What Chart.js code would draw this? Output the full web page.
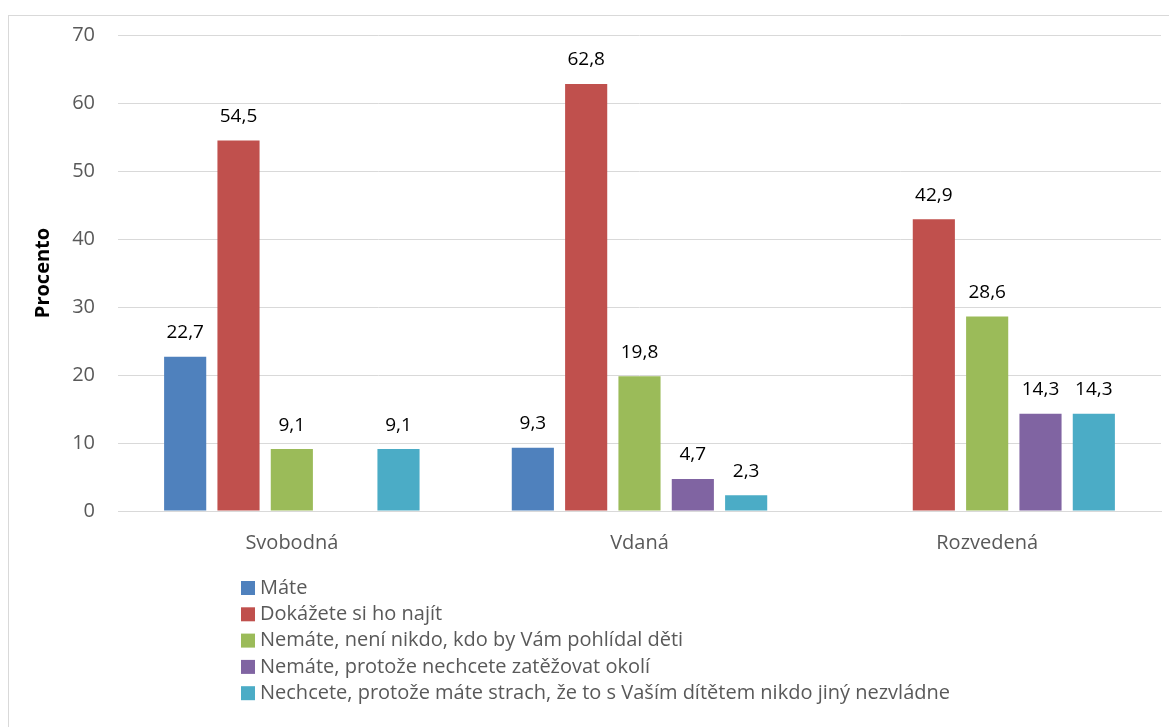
<!DOCTYPE html>
<html>
<head>
<meta charset="utf-8">
<script src="https://cdn.jsdelivr.net/npm/chart.js@4/dist/chart.umd.min.js"></script>
<style>
  body { margin: 0; background: #fff; }
  #frame { position: absolute; left: 8px; top: 15px; width: 1170px; height: 720px; border: 1px solid #d9d9d9; }
  #myChart { display: block; }
</style>
</head>
<body>
<div id="frame"><canvas id="myChart" width="1160" height="711"></canvas></div>
<script>
const categories = ["Svobodná", "Vdaná", "Rozvedená"];
const seriesNames = [
  "Máte",
  "Dokážete si ho najít",
  "Nemáte, není nikdo, kdo by Vám pohlídal děti",
  "Nemáte, protože nechcete zatěžovat okolí",
  "Nechcete, protože máte strach, že to s Vaším dítětem nikdo jiný nezvládne"
];
const mate = [22.7, 9.3, null];
const dokazete = [54.5, 62.8, 42.9];
const nemateHlidani = [9.1, 19.8, 28.6];
const nemateOkoli = [null, 4.7, 14.3];
const nechcete = [9.1, 2.3, 14.3];
const seriesColors = ["#4f81bd", "#c0504d", "#9bbb59", "#8064a2", "#4bacc6"];
const yTicks = [0, 10, 20, 30, 40, 50, 60, 70];

const FONT = "'Open Sans', 'Liberation Sans', sans-serif";

(function () {
  const ctx = document.getElementById("myChart");
  const values = [mate, dokazete, nemateHlidani, nemateOkoli, nechcete];

  const dataLabels = {
    id: "dataLabels",
    afterDatasetsDraw(chart) {
      const c = chart.ctx;
      c.save();
      c.font = "19px " + FONT;
      c.fillStyle = "#000";
      c.textAlign = "center";
      c.textBaseline = "middle";
      chart.data.datasets.forEach((ds, i) => {
        chart.getDatasetMeta(i).data.forEach((bar, j) => {
          const v = ds.data[j];
          if (v === null) return;
          c.fillText(v.toFixed(1).replace(".", ","), bar.x, bar.y - 24);
        });
      });
      c.restore();
    }
  };

  const listLegend = {
    id: "listLegend",
    afterDraw(chart) {
      const c = chart.ctx;
      c.save();
      c.font = "20px " + FONT;
      c.textBaseline = "middle";
      chart.data.datasets.forEach((ds, i) => {
        const y = 572 + i * 26.3;
        c.fillStyle = ds.backgroundColor;
        c.fillRect(232, y - 7, 14, 14);
        c.fillStyle = "#595959";
        c.fillText(ds.label, 251, y);
      });
      c.restore();
    }
  };

  new Chart(ctx, {
    type: "bar",
    data: {
      labels: categories,
      datasets: seriesNames.map((name, i) => ({
        label: name,
        data: values[i],
        backgroundColor: seriesColors[i],
        categoryPercentage: 0.767,
        barPercentage: 0.79
      }))
    },
    options: {
      responsive: false,
      animation: false,
      layout: { padding: { left: 18, top: 19, right: 8, bottom: 166 } },
      scales: {
        x: {
          grid: { display: false },
          border: { color: "#d9d9d9" },
          ticks: { color: "#595959", font: { family: FONT, size: 20 }, padding: 12 },
          afterFit(scale) { scale.height = 50; scale.paddingLeft = 0; scale.paddingRight = 0; }
        },
        y: {
          min: 0,
          max: 70,
          afterBuildTicks(scale) { scale.ticks = yTicks.map(v => ({ value: v })); },
          grid: { color: "#d9d9d9", drawTicks: false },
          border: { display: false },
          ticks: { color: "#595959", font: { family: FONT, size: 20 }, padding: 23 },
          title: { display: true, text: "Procento", color: "#000", font: { family: FONT, size: 20, weight: "bold" } },
          afterFit(scale) { scale.width = 91; scale.paddingTop = 0; scale.paddingBottom = 0; }
        }
      },
      plugins: {
        legend: { display: false },
        tooltip: { enabled: false }
      }
    },
    plugins: [dataLabels, listLegend]
  });
})();
</script>
</body>
</html>
